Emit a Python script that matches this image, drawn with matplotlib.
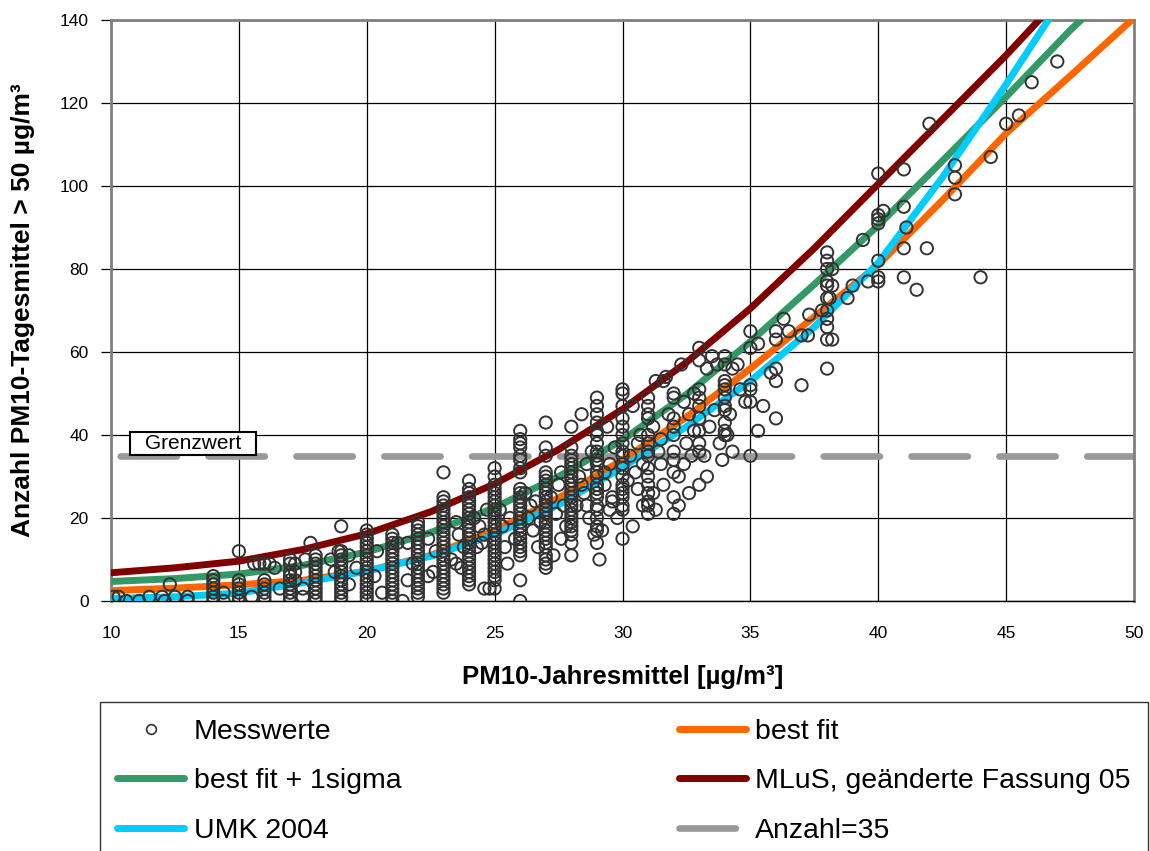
import numpy as np
import matplotlib
matplotlib.use("Agg")
from matplotlib import pyplot as plt
from matplotlib.lines import Line2D
from matplotlib.patches import Rectangle

plt.rcParams['font.family'] = ['Liberation Sans', 'DejaVu Sans']

# --- measured values (Messwerte), stacked columns at whole ug/m3 ---
col_14 = [0, 1, 2, 3, 4, 5, 6]
col_15 = [0, 1, 2, 3, 4, 5, 12]
col_16 = [0, 1, 2, 3, 4, 5, 9]
col_17 = [0, 1, 2, 3, 4, 5, 6, 7, 9, 10]
col_18 = [0, 1, 2, 3, 4, 5, 6, 7, 8, 9, 10, 11]
col_19 = [0, 1, 2, 3, 4, 5, 6, 7, 8, 9, 10, 11, 12, 18]
col_20 = [0, 1, 2, 3, 4, 5, 6, 7, 8, 9, 10, 11, 12, 13, 14, 15, 16, 17]
col_21 = [0, 1, 2, 3, 4, 5, 6, 7, 8, 9, 10, 11, 12, 13, 14, 15, 16]
col_22 = [1, 2, 3, 4, 5, 6, 7, 8, 9, 10, 11, 12, 13, 14, 15, 16, 17, 18, 19]
col_23 = [2, 3, 4, 5, 6, 7, 8, 9, 10, 11, 12, 13, 14, 15, 16, 17, 18, 19, 20,
          21, 22, 23, 24, 25, 31]
col_24 = [4, 5, 6, 7, 8, 9, 10, 11, 12, 13, 14, 15, 16, 17, 18, 19, 20, 21,
          22, 23, 24, 25, 26, 27, 29]
col_25 = [3, 5, 6, 7, 8, 9, 10, 11, 12, 13, 14, 15, 16, 17, 18, 19, 20, 21,
          22, 23, 24, 25, 26, 27, 28, 30, 32]
col_26 = [0, 5, 11, 12, 13, 14, 15, 16, 17, 18, 19, 20, 21, 22, 23, 24, 25,
          26, 27, 31, 32, 34, 35, 37, 38, 39, 41]
col_27 = [8, 9, 10, 11, 13, 14, 15, 16, 17, 18, 19, 20, 21, 22, 23, 24, 25,
          26, 27, 28, 29, 30, 31, 35, 37, 43]
col_28 = [11, 14, 16, 17, 18, 19, 20, 21, 22, 23, 24, 25, 26, 27, 28, 29, 30,
          31, 32, 33, 34, 35, 37, 42]
col_29 = [14, 17, 18, 20, 22, 23, 25, 26, 27, 28, 30, 31, 33, 34, 35, 36, 38,
          40, 41, 43, 45, 47, 49]
col_30 = [15, 22, 23, 25, 26, 27, 28, 30, 32, 33, 35, 36, 38, 40, 42, 44, 47,
          50, 51]
col_31 = [21, 23, 24, 26, 28, 30, 32, 35, 36, 38, 40, 44, 45, 47, 49]
col_32 = [21, 25, 31, 34, 36, 40, 42, 44, 49, 50]
col_33 = [28, 36, 38, 41, 44, 47, 49, 51, 58, 61]
col_34 = [40, 41, 43, 46, 47, 49, 51, 52, 53, 57, 59]
col_35 = [35, 48, 51, 52, 61, 65]
col_36 = [44, 53, 56, 63, 65]
col_37 = [52, 64]
col_38 = [56, 63, 66, 68, 70, 73, 76, 77, 80, 82, 84]
col_40 = [77, 78, 82, 91, 92, 93, 103]
col_41 = [78, 85, 95, 104]
col_43 = [98, 102, 105]

columns = [(14, col_14), (15, col_15), (16, col_16), (17, col_17),
           (18, col_18), (19, col_19), (20, col_20), (21, col_21),
           (22, col_22), (23, col_23), (24, col_24), (25, col_25),
           (26, col_26), (27, col_27), (28, col_28), (29, col_29),
           (30, col_30), (31, col_31), (32, col_32), (33, col_33),
           (34, col_34), (35, col_35), (36, col_36), (37, col_37),
           (38, col_38), (40, col_40), (41, col_41), (43, col_43)]

# --- measured values lying between the columns ---
loose_x = [10.1, 10.3, 10.6, 11.1, 11.5, 12.0, 12.1, 12.3, 12.5, 13.0, 13.0,
           14.4, 14.4, 15.5, 15.6, 15.8, 16.2, 16.4, 16.6, 17.2, 17.2, 17.2,
           17.5, 17.5, 17.6, 17.8, 18.6, 18.75, 18.9, 19.3, 19.3, 19.6, 20.3,
           20.6, 20.4, 21.2, 21.4, 21.6, 21.6, 21.8, 22.4, 22.6, 22.4, 22.7,
           23.3, 23.5, 23.6, 23.5, 23.7, 23.8, 24.2, 24.4, 24.6, 24.5, 24.6,
           24.3, 24.8, 24.7, 25.2, 25.4, 25.5, 25.3, 25.6, 25.8, 26.2, 26.4,
           26.3, 26.6, 26.5, 26.8, 26.7, 27.3, 27.2, 27.4, 27.5, 27.6, 27.7,
           27.8, 27.6, 28.4, 28.3, 28.5, 28.6, 28.7, 28.8, 28.6, 28.9, 29.1,
           29.4, 29.3, 29.5, 29.6, 29.7, 29.8, 29.5, 29.2, 30.4, 30.3, 30.5,
           30.6, 30.7, 30.8, 30.4, 30.6, 31.3, 31.6, 31.7, 31.2, 31.4, 31.5,
           31.6, 31.8, 31.3, 32.3, 32.4, 32.5, 32.6, 32.4, 32.7, 32.8, 32.6,
           32.2, 33.2, 33.3, 33.5, 33.6, 33.4, 33.7, 33.8, 33.9, 33.3, 34.2,
           34.1, 34.3, 34.5, 34.6, 34.8, 34.3, 35.3, 35.3, 35.5, 35.8, 36.3,
           36.5, 37.25, 37.3, 37.8, 38.2, 38.2, 38.1, 38.2, 38.8, 39.0, 39.6,
           39.4, 40.2, 41.1, 41.5, 41.9, 42.0, 44.0, 44.4, 45.0, 45.5, 46.0,
           47.0, 28.2, 28.4, 29.3, 29.6, 30.2, 30.8, 31.2, 31.5, 32.2, 32.8]
loose_y = [1, 1, 0, 0, 1, 1, 0, 4, 1, 1, 0,
           2, 0, 1, 9, 9, 9, 8, 3, 9, 7, 5,
           3, 1, 10, 14, 10, 7, 12, 4, 11, 8, 6,
           2, 12, 14, 0, 14, 5, 9, 15, 7, 6, 12,
           10, 19, 16, 9, 8, 13, 20, 18, 16, 14, 3,
           13, 3, 22, 22, 13, 9, 18, 20, 15, 26, 23,
           20, 24, 17, 19, 13, 11, 25, 21, 28, 31, 23,
           18, 15, 45, 30, 26, 33, 20, 36, 23, 16, 10,
           42, 28, 33, 25, 37, 20, 22, 17, 47, 35, 31,
           27, 40, 23, 18, 38, 53, 53, 54, 42, 36, 33,
           28, 45, 22, 57, 48, 38, 45, 33, 35, 50, 26,
           23, 35, 56, 59, 46, 42, 57, 38, 34, 30, 45,
           40, 56, 57, 51, 48, 36, 41, 62, 47, 55, 68,
           65, 64, 69, 70, 80, 76, 73, 63, 73, 76, 77,
           87, 94, 90, 75, 85, 115, 78, 107, 115, 117, 125,
           130, 23, 28, 31, 24, 29, 33, 26, 39, 30, 41]

curve_x = [10, 12.5, 15, 17.5, 20, 22.5, 25, 27.5, 30, 32.5, 35, 37.5, 40,
           42.5, 45, 47.5, 50]
best_fit = [2.5, 3.1, 3.9, 5.0, 7.2, 11.0, 17.0, 24.8, 34.0, 44.3, 56.0,
            68.5, 81.0, 96.5, 112.7, 126.5, 140.5]
best_fit_sigma = [4.7, 5.4, 6.5, 8.6, 11.8, 16.5, 22.5, 30.0, 38.8, 49.8,
                  62.5, 76.3, 90.5, 106.0, 121.5, 137.5, 152.0]
mlus_05 = [6.8, 8.0, 9.6, 12.4, 16.2, 21.5, 28.2, 36.5, 46.2, 57.5, 70.5,
           85.0, 100.5, 116.0, 131.5, 148.0, 165.0]
umk_2004 = [0.6, 1.0, 1.9, 4.4, 7.2, 10.8, 16.0, 23.2, 32.2, 42.0, 53.0,
            66.0, 81.5, 102.0, 124.5, 148.0, 175.0]
grenzwert = 35

# colours
c_fit = '#FF6600'
c_sigma = '#339966'
c_mlus = '#800000'
c_umk = '#00CCFF'
c_grey = '#999999'
c_mark = '#333333'

fig = plt.figure(figsize=(11.5, 8.51), dpi=100)
ax = fig.add_axes([0.09652, 0.29377, 0.88957, 0.68273])

lw_curve = 5.0
ax.axhline(grenzwert, color=c_grey, lw=4.8, linestyle=(11.8, (8.45, 4.73)),
           dash_capstyle='round', zorder=2)
ax.plot(curve_x, best_fit, color=c_fit, lw=lw_curve, solid_capstyle='round',
        solid_joinstyle='round', zorder=3)
ax.plot(curve_x, best_fit_sigma, color=c_sigma, lw=lw_curve, solid_capstyle='round',
        solid_joinstyle='round', zorder=3)
ax.plot(curve_x, mlus_05, color=c_mlus, lw=lw_curve, solid_capstyle='round',
        solid_joinstyle='round', zorder=3)
ax.plot(curve_x, umk_2004, color=c_umk, lw=lw_curve, solid_capstyle='round',
        solid_joinstyle='round', zorder=3)

# scatter of measured values
pts_x = [cx for cx, ys in columns for _ in ys] + loose_x
pts_y = [y for cx, ys in columns for y in ys] + loose_y
ax.scatter(pts_x, pts_y, s=78, facecolors='none', edgecolors=c_mark,
           linewidths=1.4, zorder=4)

ax.set_xlim(10, 50)
ax.set_ylim(0, 140)
ax.set_xticks(np.arange(10, 51, 5))
ax.set_yticks(np.arange(0, 141, 20))
ax.grid(True, color='black', lw=0.9)
ax.set_axisbelow(True)
ax.tick_params(axis='x', length=0, pad=18, labelsize=12.5)
ax.tick_params(axis='y', length=7, width=0.9, color='black', pad=9, labelsize=12.5)
for side in ['left', 'top', 'right']:
    ax.spines[side].set_color('#808080')
    ax.spines[side].set_linewidth(2)
ax.spines['bottom'].set_color('black')
ax.spines['bottom'].set_linewidth(1)

ax.set_xlabel('PM10-Jahresmittel [µg/m³]', fontsize=18.5, fontweight='bold')
ax.xaxis.set_label_coords(0.5, -0.11)
ax.set_ylabel('Anzahl PM10-Tagesmittel > 50 µg/m³', fontsize=19, fontweight='bold')
ax.yaxis.set_label_coords(-0.074, 0.5)

# "Grenzwert" label box
ax.add_patch(Rectangle((10.74, 35.2), 4.93, 5.5, facecolor='white', edgecolor='black',
                       lw=1.5, zorder=6))
ax.text(13.2, 37.9, 'Grenzwert', fontsize=15, ha='center', va='center', zorder=7)

handles = [
    Line2D([], [], linestyle='none', marker='o', markersize=7, markerfacecolor='none',
           markeredgecolor=c_mark, markeredgewidth=1.2),
    Line2D([], [], color=c_sigma, lw=lw_curve, solid_capstyle='round'),
    Line2D([], [], color=c_umk, lw=lw_curve, solid_capstyle='round'),
    Line2D([], [], color=c_fit, lw=lw_curve, solid_capstyle='round'),
    Line2D([], [], color=c_mlus, lw=lw_curve, solid_capstyle='round'),
    Line2D([], [], color=c_grey, lw=4.8, linestyle=(0, (8.45, 4.73)), dash_capstyle='round'),
]
labels = ['Messwerte', 'best fit + 1sigma', 'UMK 2004', 'best fit',
          'MLuS, geänderte Fassung 05', 'Anzahl=35']
leg = fig.legend(handles, labels, ncol=2, loc='upper left',
                 bbox_to_anchor=(100 / 1150, 0.0, 1048 / 1150, 149 / 851),
                 mode='expand', fontsize=20.5, frameon=True, fancybox=False,
                 edgecolor='black', handlelength=2.35, handletextpad=0.34,
                 labelspacing=0.82, borderpad=0.6, borderaxespad=0)
leg.get_frame().set_linewidth(1.0)

fig.savefig('out.png', dpi=100)
